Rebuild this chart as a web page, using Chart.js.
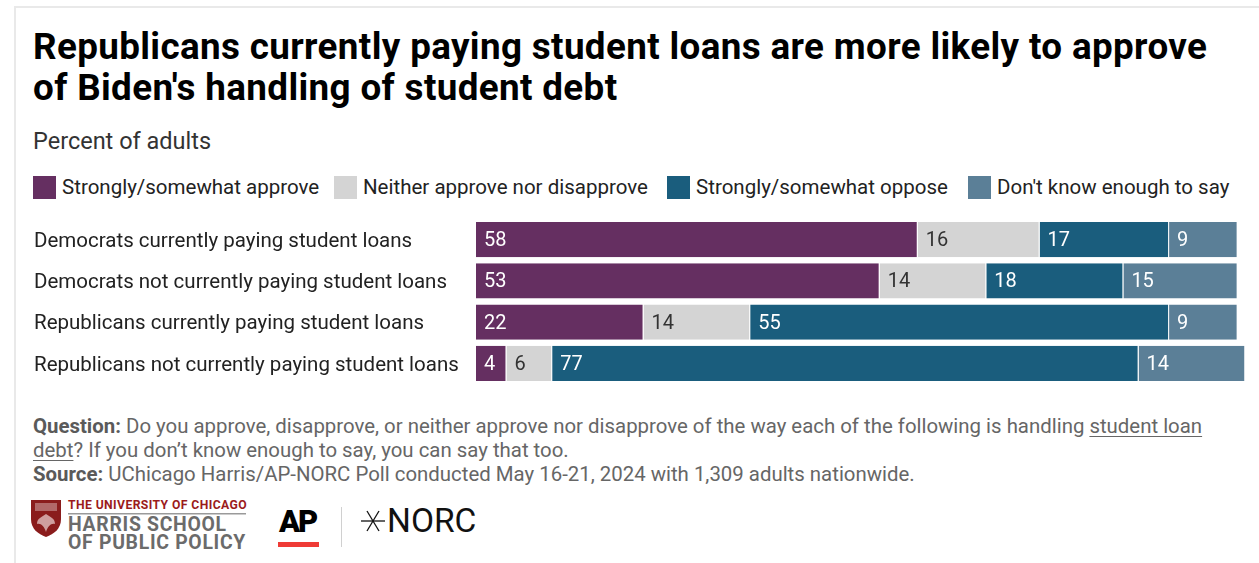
<!DOCTYPE html>
<html>
<head>
<meta charset="utf-8">
<script src="https://cdn.jsdelivr.net/npm/chart.js@4/dist/chart.umd.min.js"></script>
<style>
  html, body { margin: 0; padding: 0; background: #fff; }
  body { width: 1259px; height: 563px; position: relative; overflow: hidden; font-family: Roboto, "Noto Sans", sans-serif; }
  .frame { position: absolute; left: 14px; top: 6px; right: 0; bottom: 0; border-top: 2px solid #e9e9e9; border-left: 2px solid #e9e9e9; }
  .title { position: absolute; left: 33px; top: 26px; width: 1200px; font-weight: 700; font-size: 36.8px; line-height: 41px; letter-spacing: 0.36px; color: #000; }
  .subtitle { position: absolute; left: 33px; top: 127px; font-size: 23.5px; line-height: 28px; color: #333; }
  .legend { position: absolute; left: 33px; top: 175px; height: 24px; font-size: 20.5px; color: #222; }
  .legend .item { position: absolute; top: 0; white-space: nowrap; }
  .legend .sw { position: absolute; top: 1px; width: 23px; height: 23px; }
  .legend .lab { position: absolute; top: 0px; line-height: 24px; }
  #wrap { position: absolute; left: 34px; top: 219px; width: 1212px; height: 165px; }
  .notes { position: absolute; left: 33px; top: 414px; width: 1195px; font-size: 20.4px; line-height: 24px; color: #666; }
  .notes b { color: #5a5a5a; font-weight: 700; }
  .notes u { text-decoration-thickness: 1px; text-underline-offset: 3px; }
  .logos { position: absolute; left: 30px; top: 497px; height: 56px; width: 500px; }
</style>
</head>
<body>
<div class="frame"></div>
<div class="title">Republicans currently paying student loans are more likely to approve of Biden's handling of student debt</div>
<div class="subtitle">Percent of adults</div>
<div class="legend" id="legend"></div>
<div id="wrap"><canvas id="chart"></canvas></div>
<div class="notes">
  <b>Question:</b> Do you approve, disapprove, or neither approve nor disapprove of the way each of the following is handling <u>student loan debt</u>? If you don’t know enough to say, you can say that too.<br>
  <b>Source:</b> UChicago Harris/AP-NORC Poll conducted May 16-21, 2024 with 1,309 adults nationwide.
</div>
<div class="logos">
  <svg width="500" height="56" viewBox="0 0 500 56">
    <!-- University of Chicago shield -->
    <path d="M1 3 H31 V22 C31 32 24 37 16 40 C8 37 1 32 1 22 Z" fill="#8a1c1c"/>
    <rect x="5" y="6" width="22" height="8" fill="#d8b4b4" opacity="0.5"/>
    <path d="M16 17 C12 20 7 21 7 27 C11 26 14 29 16 35 C18 29 21 26 25 27 C25 21 20 20 16 17 Z" fill="#ecd6d6" opacity="0.7"/>
    <text x="38" y="12" font-family="Roboto, sans-serif" font-weight="700" font-size="12.2" fill="#9b1b1b" letter-spacing="0.4">THE UNIVERSITY OF CHICAGO</text>
    <rect x="38" y="16" width="178" height="1.5" fill="#9a9a9a"/>
    <text x="38" y="34" font-family="Roboto, sans-serif" font-weight="700" font-size="19.4" fill="#6b6b6b" letter-spacing="0.7">HARRIS SCHOOL</text>
    <text x="38" y="52" font-family="Roboto, sans-serif" font-weight="700" font-size="19.4" fill="#6b6b6b" letter-spacing="0.7">OF PUBLIC POLICY</text>
    <!-- AP -->
    <text x="249" y="35" font-family="Roboto, sans-serif" font-weight="900" font-size="31" fill="#000" letter-spacing="-2">AP</text>
    <rect x="248" y="45" width="41" height="5" fill="#ef3b36"/>
    <!-- divider -->
    <rect x="311" y="10" width="1" height="40" fill="#d0d0d0"/>
    <!-- NORC mark -->
    <g stroke="#111" stroke-width="1.3">
      <line x1="331" y1="24" x2="355" y2="24"/>
      <line x1="337" y1="14" x2="349" y2="34"/>
      <line x1="349" y1="14" x2="337" y2="34"/>
    </g>
    <text x="357" y="35" font-family="Roboto, sans-serif" font-weight="400" font-size="33.5" fill="#111" letter-spacing="0">NORC</text>
  </svg>
</div>

<script>
// Survey groups (rows, top to bottom)
const categories = [
  "Democrats currently paying student loans",
  "Democrats not currently paying student loans",
  "Republicans currently paying student loans",
  "Republicans not currently paying student loans"
];

// Response shares, percent of adults
const seriesNames = [
  "Strongly/somewhat approve",
  "Neither approve nor disapprove",
  "Strongly/somewhat oppose",
  "Don't know enough to say"
];
const approve  = [58, 53, 22, 4];
const neither  = [16, 14, 14, 6];
const oppose   = [17, 18, 55, 77];
const dontKnow = [9, 15, 9, 14];

const seriesColors = ["#652f61", "#d4d4d4", "#1a5d7d", "#5b7f97"];
const labelColors  = ["#ffffff", "#333333", "#ffffff", "#ffffff"];
const seriesValues = [approve, neither, oppose, dontKnow];

// Legend row
const legendX = [0, 301, 634, 935];
const legendEl = document.getElementById('legend');
seriesNames.forEach((name, i) => {
  const item = document.createElement('div');
  item.className = 'item';
  item.style.left = legendX[i] + 'px';
  item.innerHTML = '<span class="sw" style="left:0;background:' + seriesColors[i] + '"></span>' +
                   '<span class="lab" style="left:29px">' + name + '</span>';
  legendEl.appendChild(item);
});

// Value labels drawn at the start of each segment
const segmentLabels = {
  id: 'segmentLabels',
  afterDatasetsDraw(chart) {
    const ctx = chart.ctx;
    ctx.save();
    ctx.font = '20px Roboto, "Noto Sans", sans-serif';
    ctx.textBaseline = 'middle';
    ctx.textAlign = 'left';
    chart.data.datasets.forEach((ds, di) => {
      const meta = chart.getDatasetMeta(di);
      meta.data.forEach((bar, i) => {
        const v = ds.data[i];
        const left = Math.min(bar.x, bar.base);
        ctx.fillStyle = labelColors[di];
        ctx.fillText(String(v), left + 8, bar.y + 1.5);
      });
    });
    ctx.restore();
  }
};

new Chart(document.getElementById('chart'), {
  type: 'bar',
  data: {
    labels: categories,
    datasets: seriesNames.map((name, i) => ({
      label: name,
      data: seriesValues[i],
      backgroundColor: seriesColors[i],
      borderColor: 'rgba(255,255,255,0.85)',
      borderWidth: { left: 0, right: 1, top: 0, bottom: 0 },
      borderSkipped: false,
      categoryPercentage: 1,
      barPercentage: 0.86
    }))
  },
  options: {
    indexAxis: 'y',
    responsive: true,
    maintainAspectRatio: false,
    animation: false,
    layout: { padding: 0 },
    plugins: { legend: { display: false }, tooltip: { enabled: false } },
    scales: {
      x: {
        stacked: true, min: 0, max: 101.1, display: false
      },
      y: {
        stacked: true,
        grid: { display: false, drawTicks: false },
        border: { display: false },
        ticks: {
          crossAlign: 'far',
          padding: 0,
          labelOffset: 2,
          color: '#222',
          font: { family: 'Roboto, "Noto Sans", sans-serif', size: 20.5 }
        },
        afterFit(scale) {
          scale.width = 442;
          scale.paddingTop = 0;
          scale.paddingBottom = 0;
        }
      }
    }
  },
  plugins: [segmentLabels]
});
</script>
</body>
</html>
